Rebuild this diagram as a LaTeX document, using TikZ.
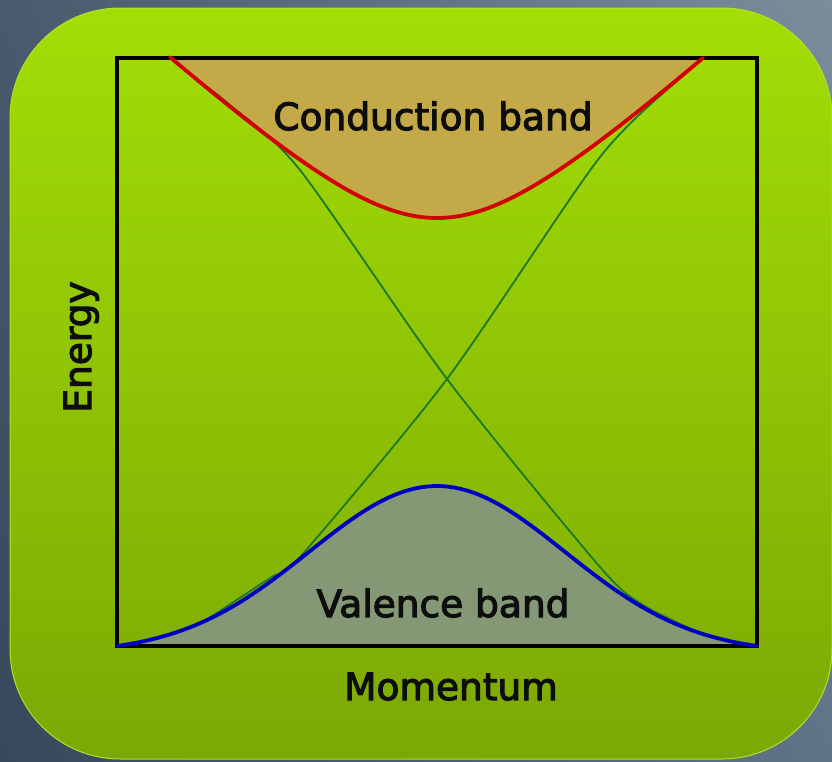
\documentclass[tikz,border=0pt]{standalone}
\usepackage{fontspec}
\setmainfont{DejaVu Sans}
\newfontfamily\lblfont{DejaVu Sans}[FakeBold=3]
\usetikzlibrary{shadings}
\definecolor{bgtl}{RGB}{74,90,108}
\definecolor{bgtr}{RGB}{124,140,156}
\definecolor{bgbl}{RGB}{56,72,90}
\definecolor{bgbr}{RGB}{96,116,136}
\definecolor{limetop}{RGB}{162,222,6}
\definecolor{limebot}{RGB}{124,168,4}
\definecolor{limeedge}{RGB}{176,226,40}
\definecolor{condfill}{RGB}{196,169,72}
\definecolor{valfill}{RGB}{132,152,118}
\definecolor{condred}{RGB}{212,0,0}
\definecolor{valblue}{RGB}{0,0,192}
\definecolor{conegreen}{RGB}{30,120,40}
\begin{document}
\begin{tikzpicture}[x=1pt,y=-1pt,
  lbl/.style={font=\lblfont\fontsize{37.5}{40}\selectfont,text=black!95,inner sep=0pt},
  band/.style={line width=3.8pt,line join=round,line cap=round},
  cone/.style={draw=conegreen,line width=1.8pt}]
\useasboundingbox (0,0) rectangle (832,761);
\shade[upper left=bgtl,upper right=bgtr,lower left=bgbl,lower right=bgbr] (0,0) rectangle (832,761);
\shade[top color=limetop,bottom color=limebot,draw=limeedge,line width=1pt,rounded corners=110pt] (10,8) rectangle (832,759);
% band fills
\fill[condfill] plot[domain=-267:266,samples=100] ({437+\x},{324.7-100*sqrt(1.1385+0.8444*(\x/100)*(\x/100))}) -- cycle;
\fill[valfill] plot[domain=-320:320,samples=100] ({437+\x},{646-167.3*(exp(-0.5*(\x/128)*(\x/128))-0.0439)}) -- cycle;
% frame
\draw[line width=3.4pt,black] (117,58) rectangle (757,646);
% gapless crossing
\draw[cone] plot[smooth,tension=0.45] coordinates {(200,82) (230,105) (300,170) (447,379) (600,567) (643,605) (700,633)};
\draw[cone] plot[smooth,tension=0.45] coordinates {(700,60) (687,72) (600,157) (447,379) (300,557) (270,578) (200,624)};
% bands
\draw[band,condred] plot[domain=-267:266,samples=100] ({437+\x},{324.7-100*sqrt(1.1385+0.8444*(\x/100)*(\x/100))});
\draw[band,valblue] plot[domain=-320:320,samples=100] ({437+\x},{646-167.3*(exp(-0.5*(\x/128)*(\x/128))-0.0439)});
% labels
\node[lbl,anchor=base] (cond) at (433,130) {Conduction band};
\node[lbl,anchor=base] (val) at (443,617) {Valence band};
\node[lbl,anchor=base] (mom) at (451,700) {Momentum};
\node[lbl,anchor=base,rotate=90] (en) at (91,347) {Energy};
\end{tikzpicture}
\end{document}
